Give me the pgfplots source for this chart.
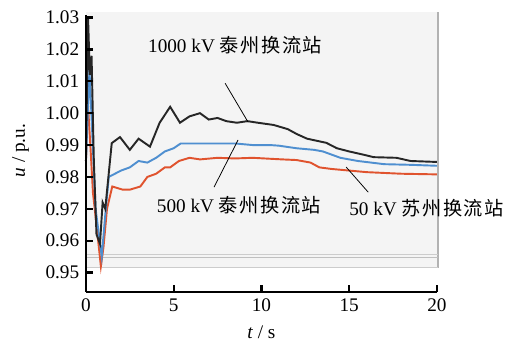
\documentclass[border=0pt]{standalone}
\usepackage{pgfplots}
\pgfplotsset{compat=1.18}
\usepackage{fontspec}
\setmainfont{Liberation Serif}
\newfontfamily\cjk{Noto Sans CJK SC}
\definecolor{cblack}{HTML}{262626}
\definecolor{cblue}{HTML}{4F8FD0}
\definecolor{cred}{HTML}{E0532E}
\definecolor{panel}{HTML}{F4F4F4}
\begin{document}
\begin{tikzpicture}
\begin{axis}[
  scale only axis, width=182.5pt, height=143.9pt,
  xmin=0, xmax=20, ymin=0.944, ymax=1.0308,
  axis lines=left, axis line style={-, line width=1.2pt},
  xtick={0,5,10,15,20}, ytick={0.95,0.96,0.97,0.98,0.99,1.00,1.01,1.02,1.03},
  yticklabel style={/pgf/number format/.cd, fixed, fixed zerofill, precision=2},
  /pgf/number format/assume math mode=true,
  ticklabel style={font=\rmfamily},
  tick align=inside, major tick length=3.5pt,
  tick style={line width=1.2pt, black},
  every axis x label/.style={at={(axis description cs:0.5,0)}, yshift=-21pt, anchor=center},
  every axis y label/.style={at={(axis description cs:0,0.51)}, xshift=-34pt, rotate=90, anchor=center},
  xlabel={\textit{t} / s}, ylabel={\textit{u} / p.u.},
  clip=false, axis on top,
]
\fill[panel] (axis cs:0,0.9515) rectangle (axis cs:20.08,1.0317);
\draw[gray!60, line width=0.8pt] (axis cs:20.08,0.9515) -- (axis cs:20.08,1.0317);
\draw[gray!40, line width=0.7pt] (axis cs:0,0.9515) -- (axis cs:20.08,0.9515);
\draw[gray!50, line width=0.7pt] (axis cs:0,0.9548) -- (axis cs:20.08,0.9548);
\draw[gray!40, line width=0.7pt] (axis cs:0,0.9556) -- (axis cs:20.08,0.9556);
% 50 kV (red)
\addplot[cred, line width=1pt] coordinates {
(0,0.985) (0.1,1.004) (0.25,0.99) (0.4,0.975) (0.6,0.965) (0.85,0.952) (1.0,0.958) (1.2,0.970)
(1.5,0.977) (2.1,0.976) (2.5,0.976) (3.1,0.977) (3.5,0.980) (4.0,0.981) (4.5,0.983) (4.8,0.983)
(5.3,0.985) (5.9,0.986) (6.5,0.9855) (7.5,0.986) (8.5,0.9858) (9.5,0.986) (10.5,0.9857) (11.2,0.9855)
(12.0,0.9853) (12.8,0.9845) (13.3,0.983) (14.0,0.9825) (15.0,0.982) (16.0,0.9815) (18.0,0.981) (20,0.9808)};
% 500 kV (blue)
\addplot[cblue, line width=1pt] coordinates {
(0,0.985) (0.2,1.0135) (0.35,0.995) (0.55,0.970) (0.9,0.955) (1.1,0.968) (1.3,0.980) (2.0,0.982)
(2.5,0.983) (3.0,0.985) (3.5,0.9845) (4.0,0.986) (4.5,0.988) (5.0,0.989) (5.4,0.9905) (6.5,0.9905)
(7.5,0.9905) (8.5,0.9905) (9.5,0.990) (10.5,0.990) (11.0,0.9898) (12.0,0.989) (13.0,0.9885) (13.5,0.988)
(14.5,0.986) (15.5,0.985) (17.0,0.984) (18.5,0.9838) (20,0.9835)};
% 1000 kV (black)
\addplot[cblack, line width=1pt] coordinates {
(0,0.985) (0.12,1.03) (0.22,1.012) (0.32,1.018) (0.45,0.985) (0.6,0.962) (0.8,0.959) (0.95,0.972)
(1.1,0.970) (1.47,0.9906) (1.94,0.9925) (2.5,0.9885) (3.0,0.992) (3.65,0.9895) (4.2,0.997) (4.8,1.002)
(5.36,0.997) (5.9,0.999) (6.5,1.000) (7.0,0.998) (7.5,0.9985) (8.0,0.9975) (8.6,0.997) (9.2,0.9975)
(9.8,0.997) (10.7,0.9963) (11.5,0.995) (12.0,0.9935) (12.6,0.992) (13.7,0.9907) (14.3,0.989) (15.0,0.988)
(15.8,0.987) (16.4,0.9862) (17.7,0.986) (18.5,0.985) (20,0.9847)};
% annotations
\draw[line width=0.4pt] (axis cs:7.93,1.0094) -- (axis cs:9.24,0.9972);
\draw[line width=0.4pt] (axis cs:7.3,0.9768) -- (axis cs:8.67,0.9916);
\draw[line width=0.4pt] (axis cs:14.83,0.9831) -- (axis cs:16.09,0.9752);
\node[fill=panel, inner sep=1pt] at (axis cs:8.5,1.0214) {1000 kV {\cjk\addfontfeatures{LetterSpace=8}泰州换流站}};
\node[fill=panel, inner sep=1pt] at (axis cs:8.73,0.9712) {500 kV {\cjk\addfontfeatures{LetterSpace=8}泰州换流站}};
\node[inner sep=1pt] at (axis cs:19.42,0.9703) {50 kV {\cjk\addfontfeatures{LetterSpace=8}苏州换流站}};
\coordinate (o) at (rel axis cs:0,0);
\end{axis}
\pgfresetboundingbox
\path[use as bounding box] ([xshift=-44.7pt,yshift=-25.6pt]o) rectangle ++(269.4pt,177.3pt);
\end{tikzpicture}
\end{document}
